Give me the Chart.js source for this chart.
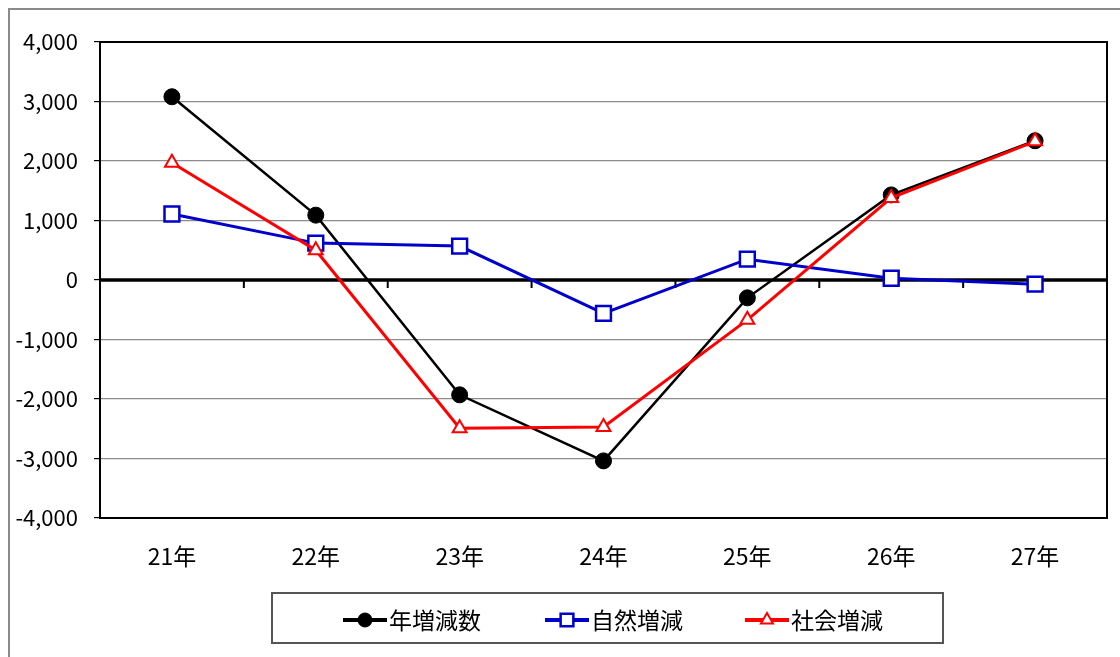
<!DOCTYPE html>
<html>
<head>
<meta charset="utf-8">
<script src="https://cdn.jsdelivr.net/npm/chart.js@4.4.1/dist/chart.umd.min.js"></script>
<style>
  html, body { margin: 0; padding: 0; background: #fff; }
  #wrap { width: 1120px; height: 657px; position: relative; }
</style>
</head>
<body>
<div id="wrap"><canvas id="grafico"></canvas></div>
<script>
// Datos del gráfico
var categorias = ["21年", "22年", "23年", "24年", "25年", "26年", "27年"];
var nenZougen = [3080, 1090, -1930, -3040, -300, 1430, 2340];
var shizenZougen = [1110, 620, 570, -560, 350, 30, -70];
var shakaiZougen = [1970, 500, -2490, -2470, -670, 1380, 2330];
var ticksY = [-4000, -3000, -2000, -1000, 0, 1000, 2000, 3000, 4000];

var fuente = "'Liberation Sans Narrow', 'Noto Sans CJK JP', sans-serif";
var fuenteJP = "'Noto Sans CJK JP', sans-serif";

// Marco, línea cero, marcas y leyenda
var pluginMarco = {
  id: 'marco',
  beforeDraw: function (chart) {
    var ctx = chart.ctx;
    ctx.save();
    ctx.fillStyle = '#fff';
    ctx.fillRect(0, 0, chart.width, chart.height);
    ctx.strokeStyle = '#8a8a8a';
    ctx.lineWidth = 2;
    ctx.strokeRect(9, 9, chart.width + 20, chart.height + 20);
    ctx.restore();
  },
  beforeDatasetsDraw: function (chart) {
    var ctx = chart.ctx;
    var a = chart.chartArea;
    var x = chart.scales.x;
    var y0 = chart.scales.y.getPixelForValue(0);
    ctx.save();
    ctx.strokeStyle = '#000';
    ctx.lineWidth = 2;
    ctx.strokeRect(a.left, a.top, a.right - a.left, a.bottom - a.top);
    // línea cero
    ctx.lineWidth = 3.5;
    ctx.beginPath();
    ctx.moveTo(a.left, y0);
    ctx.lineTo(a.right, y0);
    ctx.stroke();
    // marcas entre categorías
    ctx.lineWidth = 2;
    for (var i = 0; i <= categorias.length; i++) {
      var px = (i === 0) ? a.left : (x.getPixelForValue(i - 1) + x.getPixelForValue(i)) / 2;
      if (i === categorias.length) px = a.right;
      ctx.beginPath();
      ctx.moveTo(px, y0);
      ctx.lineTo(px, y0 + 8);
      ctx.stroke();
    }
    ctx.restore();
  },
  afterDraw: function (chart) {
    var ctx = chart.ctx;
    ctx.save();
    // caja de la leyenda
    ctx.strokeStyle = '#555';
    ctx.lineWidth = 2;
    ctx.strokeRect(272, 593, 671, 50);
    var posiciones = [343, 545, 745];
    var cy = 620;
    chart.data.datasets.forEach(function (ds, i) {
      var x0 = posiciones[i];
      ctx.strokeStyle = ds.borderColor;
      ctx.lineWidth = 4;
      ctx.beginPath();
      ctx.moveTo(x0, cy);
      ctx.lineTo(x0 + 44, cy);
      ctx.stroke();
      ctx.fillStyle = ds.pointBackgroundColor;
      ctx.strokeStyle = ds.pointBorderColor;
      ctx.lineWidth = ds.pointBorderWidth;
      Chart.helpers.drawPoint(ctx, {
        pointStyle: ds.pointStyle,
        radius: ds.legendRadius,
        borderWidth: ds.pointBorderWidth
      }, x0 + 22, cy);
      ctx.fillStyle = '#000';
      ctx.font = '23px ' + fuenteJP;
      ctx.textBaseline = 'middle';
      ctx.fillText(ds.label, x0 + 46, cy);
    });
    ctx.restore();
  }
};

var ctxGrafico = document.getElementById('grafico').getContext('2d');
new Chart(ctxGrafico, {
  type: 'line',
  data: {
    labels: categorias,
    datasets: [{
      label: '年増減数',
      data: nenZougen,
      borderColor: '#000000',
      borderWidth: 2.5,
      pointStyle: 'circle',
      pointRadius: 8,
      legendRadius: 7,
      pointBackgroundColor: '#000000',
      pointBorderColor: '#000000',
      pointBorderWidth: 1,
      order: 3
    }, {
      label: '自然増減',
      data: shizenZougen,
      borderColor: '#0000cc',
      borderWidth: 3,
      pointStyle: 'rect',
      pointRadius: 10.5,
      legendRadius: 9,
      pointBackgroundColor: '#ffffff',
      pointBorderColor: '#0000cc',
      pointBorderWidth: 2.5,
      order: 2
    }, {
      label: '社会増減',
      data: shakaiZougen,
      borderColor: '#ff0000',
      borderWidth: 3,
      pointStyle: 'triangle',
      pointRadius: 8,
      legendRadius: 7,
      pointBackgroundColor: '#ffffff',
      pointBorderColor: '#ff0000',
      pointBorderWidth: 2,
      order: 1
    }]
  },
  options: {
    responsive: true,
    maintainAspectRatio: false,
    animation: false,
    layout: { padding: { top: 42, right: 12, left: 0, bottom: 0 } },
    plugins: {
      legend: { display: false },
      tooltip: { enabled: false }
    },
    scales: {
      x: {
        offset: true,
        grid: { display: false, drawTicks: false },
        border: { display: false },
        ticks: { padding: 24, color: '#000', font: { family: fuente, size: 23 } },
        afterFit: function (s) { s.height = 139; }
      },
      y: {
        min: -4000,
        max: 4000,
        afterBuildTicks: function (s) { s.ticks = ticksY.map(function (v) { return { value: v }; }); },
        grid: {
          color: function (c) { return c.tick && c.tick.value === 0 ? 'rgba(0,0,0,0)' : '#8c8c8c'; },
          lineWidth: 1.2,
          tickColor: '#000',
          tickLength: 6
        },
        border: { display: false },
        ticks: {
          padding: 16,
          color: '#000',
          font: { family: fuente, size: 22 },
          callback: function (v) { return v.toLocaleString('en-US'); }
        },
        afterFit: function (s) { s.width = 100; }
      }
    }
  },
  plugins: [pluginMarco]
});
</script>
</body>
</html>
